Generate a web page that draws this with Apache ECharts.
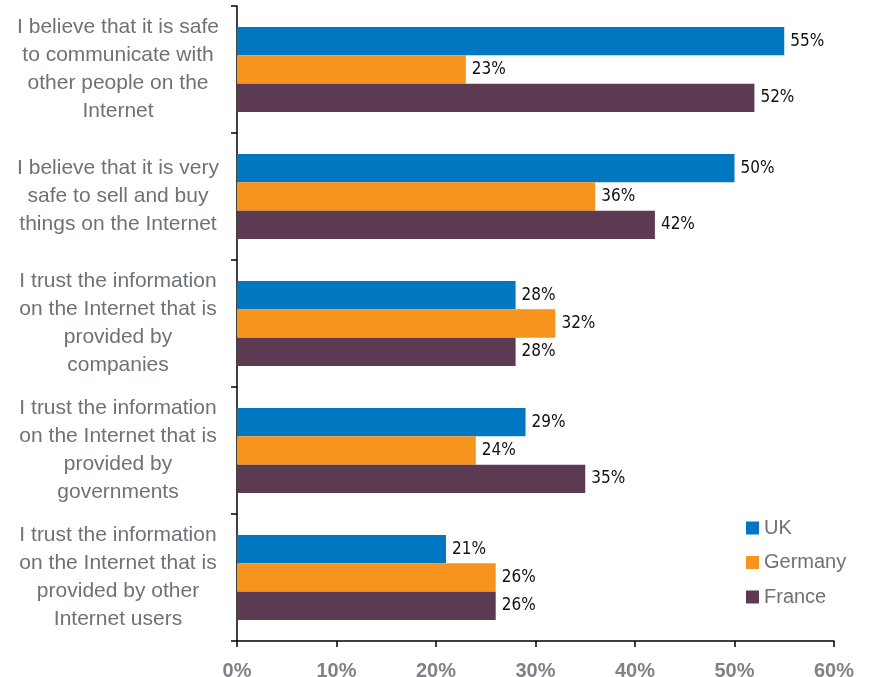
<!DOCTYPE html>
<html>
<head>
<meta charset="utf-8">
<script src="https://cdn.jsdelivr.net/npm/echarts@6/dist/echarts.min.js"></script>
<style>
  html, body { margin: 0; padding: 0; background: #ffffff; }
  #chart { width: 869px; height: 677px; }
</style>
</head>
<body>
<div id="chart"></div>
<script>
// Survey statements (top to bottom)
const categories = [
  'I believe that it is safe\nto communicate with\nother people on the\nInternet',
  'I believe that it is very\nsafe to sell and buy\nthings on the Internet',
  'I trust the information\non the Internet that is\nprovided by\ncompanies',
  'I trust the information\non the Internet that is\nprovided by\ngovernments',
  'I trust the information\non the Internet that is\nprovided by other\nInternet users'
];

// Share of respondents agreeing, in percent
const ukValues      = [55, 50, 28, 29, 21];
const germanyValues = [23, 36, 32, 24, 26];
const franceValues  = [52, 42, 28, 35, 26];

const xTicks = [0, 10, 20, 30, 40, 50, 60];

const colors = { UK: '#0077c0', Germany: '#f7941d', France: '#5c3a52' };

// Narrow figures for the value labels (font-stretch goes into the canvas font shorthand)
const valueLabel = {
  show: true,
  position: 'right',
  distance: 6,
  color: '#111111',
  fontWeight: 'condensed',
  fontFamily: '"DejaVu Sans", sans-serif',
  fontSize: 17,
  formatter: p => p.value + '%'
};

function barSeries(name, data) {
  return {
    name: name,
    type: 'bar',
    data: data,
    barGap: '0%',
    barCategoryGap: '33%',
    itemStyle: { color: colors[name] },
    label: valueLabel
  };
}

const chart = echarts.init(document.getElementById('chart'), null, { renderer: 'canvas' });

chart.setOption({
  animation: false,
  backgroundColor: '#ffffff',
  grid: { left: 237, right: 35, top: 6, bottom: 36, containLabel: false, outerBoundsMode: 'none' },
  legend: {
    orient: 'vertical',
    left: 741,
    top: 513,
    icon: 'rect',
    itemWidth: 13,
    itemHeight: 13,
    itemGap: 14.5,
    textStyle: { color: '#6d7178', fontSize: 20, fontFamily: 'Liberation Sans, Arial, sans-serif' },
    data: ['UK', 'Germany', 'France']
  },
  xAxis: {
    type: 'value',
    min: xTicks[0],
    max: xTicks[xTicks.length - 1],
    interval: 10,
    axisLine: { show: true, lineStyle: { color: '#000', width: 1.5 } },
    axisTick: { show: true, length: 6, lineStyle: { color: '#000', width: 1.5 } },
    splitLine: { show: false },
    axisLabel: {
      margin: 20,
      color: '#7f8287',
      fontWeight: 'bold',
      fontSize: 20,
      fontFamily: 'Liberation Sans, Arial, sans-serif',
      formatter: v => v + '%'
    }
  },
  yAxis: {
    type: 'category',
    inverse: true,
    data: categories,
    axisLine: { show: true, lineStyle: { color: '#000', width: 1.5 } },
    axisTick: { show: true, length: 6, lineStyle: { color: '#000', width: 1.5 } },
    axisLabel: {
      margin: 119,
      align: 'center',
      color: '#6d7178',
      fontSize: 21,
      lineHeight: 28,
      fontFamily: 'Liberation Sans, Arial, sans-serif'
    }
  },
  series: [
    barSeries('UK', ukValues),
    barSeries('Germany', germanyValues),
    barSeries('France', franceValues)
  ]
});
</script>
</body>
</html>
